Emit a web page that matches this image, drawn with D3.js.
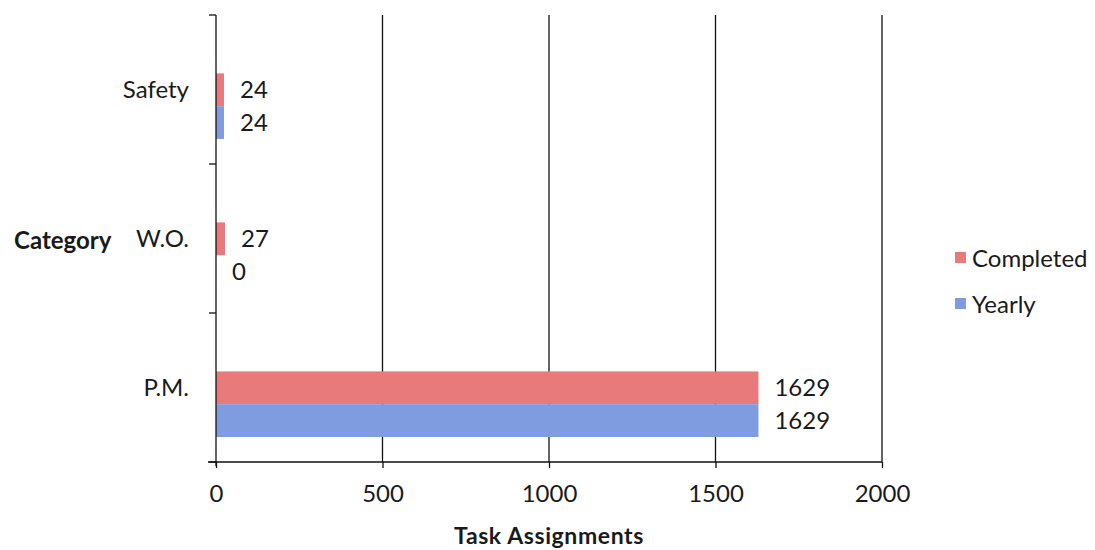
<!DOCTYPE html>
<html>
<head>
<meta charset="utf-8">
<script src="https://cdn.jsdelivr.net/npm/d3@7"></script>
<style>
  html, body { margin: 0; padding: 0; background: #fff; }
  svg { display: block; }
  text { font-family: Lato, "Open Sans", sans-serif; fill: #1a1a1a; }
</style>
</head>
<body>
<svg id="chart" width="1095" height="550"></svg>
<script>
// Task assignment counts per category
const categories = ["Safety", "W.O.", "P.M."];
const seriesNames = ["Completed", "Yearly"];
const completed = [24, 27, 1629];
const yearly = [24, 0, 1629];
const xTicks = [0, 500, 1000, 1500, 2000];
const colors = ["#e97a7c", "#7f9ce0"];

const FS = 24;
const svg = d3.select("#chart");
const plotLeft = 216, plotRight = 882, plotTop = 15, plotBottom = 462;

const x = d3.scaleLinear().domain([0, 2000]).range([plotLeft, plotRight]);
const y = d3.scaleBand().domain(categories).range([plotTop, plotBottom]).padding(0);
const bw = y.bandwidth();
// bars sit in the lower part of each category band
const ySub = d3.scaleBand().domain(seriesNames).range([bw * 0.392, bw * 0.832]).padding(0);

const rows = categories.map((c, i) => ({cat: c, values: [completed[i], yearly[i]]}));

// vertical gridlines
svg.append("g")
  .selectAll("line")
  .data(xTicks.filter(t => t > 0))
  .join("line")
  .attr("x1", d => x(d)).attr("x2", d => x(d))
  .attr("y1", plotTop).attr("y2", plotBottom)
  .attr("stroke", "#111").attr("stroke-width", 1.3);

// bars
const groups = svg.append("g")
  .selectAll("g")
  .data(rows)
  .join("g")
  .attr("transform", d => `translate(0,${y(d.cat)})`);

groups.selectAll("rect")
  .data(d => d.values.map((v, j) => ({v, s: seriesNames[j], j})))
  .join("rect")
  .attr("x", x(0))
  .attr("y", d => ySub(d.s))
  .attr("width", d => x(d.v) - x(0))
  .attr("height", ySub.bandwidth())
  .attr("fill", d => colors[d.j]);

groups.selectAll("text.val")
  .data(d => d.values.map((v, j) => ({v, s: seriesNames[j], j})))
  .join("text")
  .attr("class", "val")
  .attr("x", d => x(d.v) + 16)
  .attr("y", d => ySub(d.s) + ySub.bandwidth() / 2)
  .attr("dy", "0.36em")
  .attr("font-size", FS)
  .text(d => d.v);

// x axis
const xAxis = svg.append("g")
  .attr("transform", `translate(0,${plotBottom})`)
  .call(d3.axisBottom(x).tickValues(xTicks).tickSize(6).tickPadding(17).tickFormat(d3.format("d")));
xAxis.select(".domain").attr("d", `M${plotLeft - 8},0H${plotRight}`).attr("stroke", "#111").attr("stroke-width", 1.3);
xAxis.selectAll(".tick line").attr("stroke", "#111").attr("stroke-width", 1.3);
xAxis.selectAll(".tick text").attr("font-size", FS).attr("font-family", "Lato, 'Open Sans', sans-serif").attr("fill", "#1a1a1a");

// y axis with ticks at band boundaries
const yAxisG = svg.append("g").attr("transform", `translate(${plotLeft},0)`);
yAxisG.append("line").attr("x1", 0).attr("x2", 0).attr("y1", plotTop).attr("y2", plotBottom + 4)
  .attr("stroke", "#111").attr("stroke-width", 1.3);
const boundaries = categories.map(c => y(c)).concat([plotBottom]);
yAxisG.selectAll("line.tk")
  .data(boundaries)
  .join("line")
  .attr("class", "tk")
  .attr("x1", -7).attr("x2", 0)
  .attr("y1", d => d).attr("y2", d => d)
  .attr("stroke", "#111").attr("stroke-width", 1.3);
yAxisG.selectAll("text")
  .data(categories)
  .join("text")
  .attr("x", -27)
  .attr("y", d => y(d) + bw / 2)
  .attr("dy", "0.36em")
  .attr("text-anchor", "end")
  .attr("font-size", FS)
  .text(d => d);

// axis titles
svg.append("text")
  .attr("x", 14).attr("y", y("W.O.") + bw / 2 + 2)
  .attr("dy", "0.36em")
  .attr("font-size", FS).attr("font-weight", "bold")
  .text("Category");

svg.append("text")
  .attr("x", (plotLeft + plotRight) / 2).attr("y", 544)
  .attr("text-anchor", "middle")
  .attr("font-size", 23).attr("font-weight", "bold")
  .attr("letter-spacing", 0.6)
  .text("Task  Assignments");

// legend
const legend = svg.append("g").attr("transform", "translate(955,252)");
const li = legend.selectAll("g")
  .data(seriesNames)
  .join("g")
  .attr("transform", (d, i) => `translate(0,${i * 46})`);
li.append("rect").attr("width", 11).attr("height", 11).attr("y", 0)
  .attr("fill", (d, i) => colors[i]);
li.append("text").attr("x", 17).attr("y", 6).attr("dy", "0.36em")
  .attr("font-size", FS).text(d => d);
</script>
</body>
</html>
